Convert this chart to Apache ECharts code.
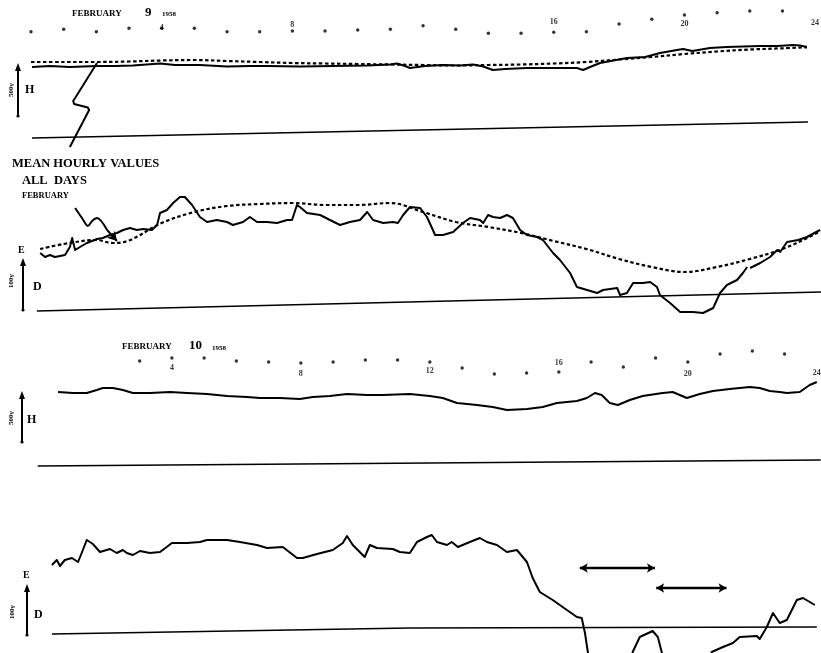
<!DOCTYPE html>
<html><head><meta charset="utf-8">
<script src="https://cdn.jsdelivr.net/npm/echarts@6.0.0/dist/echarts.min.js"></script>
<style>html,body{margin:0;padding:0;background:#fff}#c{width:821px;height:653px}</style>
</head><body><div id="c"></div>
<script>
// ---- February 9, 1958 : hour of day vs. gamma (relative) ----
const hourMarks9 = [8.3,10.7,8.3,11.7,11.7,11.7,8.3,8.3,9,9,10,10.7,14.3,10.7,6.7,6.7,7.7,8.3,16,20.7,25,27.3,29,29];
const hourLabels9 = [[4,12,'4'],[8,15,'8'],[16,18,'16'],[20,16,'20'],[24,17,'24']];
const h9 = [[0.03,830],[0.58,840],[1.19,830],[2.02,840],[2.57,840],[3.12,845],[3.95,865],[4.41,850],[5.17,850],[6.00,835],[6.70,840],[7.22,840],[8.23,835],[9.24,840],[10.29,845],[10.99,855],[11.20,865],[11.45,840],[11.60,820],[12.06,840],[12.61,850],[13.13,845],[13.53,855],[13.84,835],[14.14,800],[14.51,810],[15.18,820],[15.89,820],[16.71,820],[16.90,800],[17.11,830],[17.42,870],[18.24,920],[18.80,930],[19.25,970],[19.77,1000],[19.96,1010],[20.24,990],[20.78,1020],[21.30,1030],[21.79,1035],[22.32,1040],[22.84,1040],[23.33,1050],[23.54,1045],[23.75,1030]];
const h9Mean = [[0,880],[1,880],[2,880],[3,885],[4,895],[5,900],[6,890],[7,880],[8,870],[9,865],[10,860],[11,855],[12,850],[13,845],[14,850],[15,855],[16,865],[17,880],[18,905],[19,930],[20,960],[21,985],[22,1005],[23,1017],[23.75,1027]];
const h9Base = [[0.03,120],[23.78,280]];
const d9 = [[0.28,134],[0.43,126],[0.58,130],[0.73,126],[0.89,128],[1.04,130],[1.19,146],[1.26,164],[1.35,140],[1.50,146],[1.71,154],[2.02,162],[2.20,164],[2.42,170],[2.63,174],[2.82,180],[3.03,184],[3.24,180],[3.43,182],[3.70,180],[3.86,190],[3.95,214],[4.16,220],[4.35,234],[4.56,246],[4.71,246],[4.93,230],[5.17,206],[5.39,196],[5.69,200],[6.00,196],[6.18,190],[6.49,196],[6.70,206],[6.92,196],[7.22,196],[7.53,194],[7.84,200],[7.99,200],[8.14,230],[8.23,226],[8.45,214],[8.85,210],[9.15,200],[9.46,190],[9.76,196],[10.07,200],[10.29,216],[10.47,200],[10.78,194],[11.08,196],[11.23,194],[11.39,210],[11.60,226],[11.91,224],[12.12,206],[12.37,170],[12.61,170],[12.92,176],[13.22,194],[13.44,204],[13.74,200],[13.84,194],[13.99,210],[14.14,206],[14.36,204],[14.57,210],[14.75,204],[14.97,180],[15.18,170],[15.49,166],[15.67,160],[15.98,134],[16.19,120],[16.50,94],[16.71,66],[17.02,60],[17.33,54],[17.51,60],[17.94,64],[18.03,50],[18.24,54],[18.43,74],[18.73,74],[18.95,76],[19.16,66],[19.25,50],[19.56,34],[19.87,16],[20.26,16],[20.57,14],[20.88,24],[21.09,54],[21.30,70],[21.61,80],[21.79,94],[21.92,106],[21.96,null],[22.01,104],[22.32,114],[22.62,126],[22.84,140],[22.93,136],[23.14,156],[23.48,160],[23.75,166],[24.15,180]];
const d9Mean = [[0.28,142],[1,152],[2,160],[2.5,154],[3,159],[4,194],[5,216],[6,228],[7,232],[8,234],[9,230],[10,230],[11,234],[12,216],[13,196],[14,186],[15,174],[16,158],[17,142],[18,122],[19,106],[20,96],[21,106],[22,122],[23,142],[24,172],[24.15,180]];
const d9Base = [[0.18,18],[24.18,56]];
// annotation leaders (hour, gamma)
const leaderH9 = [[1.19,30],[1.78,400],[1.74,425],[1.50,445],[1.32,460],[1.29,490],[1.35,520],[2.02,870]];
const leaderD9 = [[1.35,224],[1.56,204],[1.74,188],[1.87,198],[2.02,204],[2.33,180]];
const leaderD9Tip = [[2.33,180],[2.63,158]];

// ---- February 10, 1958 ----
const hourMarks10 = [[3,19],[4,22],[5,22],[6,19],[7,18],[8,17],[9,18],[10,20],[11,20],[12,18],[13,12],[14,6],[15,7],[16,8],[17,18],[18,13],[19,22],[20,18],[21,26],[22,29],[23,26]];
const hourLabels10 = [[4,12,'4'],[8,6,'8'],[12,9,'12'],[16,17,'16'],[20,6,'20'],[24,7,'24']];
const h10 = [[0.47,530],[0.93,520],[1.36,520],[1.67,550],[1.86,570],[2.17,570],[2.48,550],[2.79,520],[3.32,520],[3.94,530],[4.47,520],[5.09,510],[5.71,490],[6.33,480],[6.73,470],[7.35,470],[7.97,460],[8.37,480],[8.90,490],[9.43,510],[10.05,500],[10.54,500],[11.38,510],[12.00,490],[12.40,470],[12.84,420],[13.46,400],[13.95,380],[14.39,350],[15.01,360],[15.50,380],[15.94,420],[16.56,440],[16.87,470],[17.12,520],[17.33,500],[17.58,420],[17.83,400],[18.20,450],[18.60,490],[19.22,520],[19.53,530],[19.97,470],[20.37,510],[20.78,540],[21.30,560],[21.92,580],[22.23,570],[22.54,540],[22.85,530],[23.07,520],[23.47,530],[23.78,600],[24.00,630]];
const h10Base = [[-0.16,-210],[24.12,-150]];
const d10 = [[0.28,176],[0.43,186],[0.53,174],[0.68,186],[0.90,190],[1.09,182],[1.24,206],[1.36,226],[1.55,218],[1.77,202],[2.08,208],[2.29,200],[2.48,206],[2.60,200],[2.79,196],[3.01,204],[3.32,200],[3.63,202],[3.84,212],[4.00,220],[4.47,220],[4.87,222],[5.09,226],[5.71,226],[6.11,222],[6.64,216],[6.95,210],[7.44,212],[7.88,190],[8.06,190],[8.50,198],[8.99,206],[9.30,220],[9.43,234],[9.61,216],[9.98,192],[10.14,216],[10.36,210],[10.85,208],[11.07,202],[11.38,200],[11.60,222],[11.91,232],[12.06,236],[12.22,222],[12.53,216],[12.68,222],[12.87,212],[13.24,222],[13.55,230],[13.77,222],[14.08,216],[14.39,202],[14.70,206],[15.01,182],[15.19,150],[15.41,122],[15.81,106],[16.25,86],[16.56,72],[16.71,70],[16.81,40],[16.90,2],[16.96,-24],[17.5,null],[18.23,-24],[18.29,2],[18.51,32],[18.91,44],[19.07,32],[19.19,2],[19.26,-24],[20.0,null],[20.68,-24],[20.74,2],[21.09,12],[21.40,20],[21.61,32],[22.14,34],[22.23,28],[22.45,52],[22.64,80],[22.85,60],[23.07,66],[23.38,106],[23.57,110],[23.94,96]];
const d10Base = [[0.28,38],[11.38,50],[24.0,52]];
const arrows10 = [[16.65,18.98,170],[19.02,21.2,130]];

const FONT = 'Liberation Serif, DejaVu Serif, serif';
const grids = [
  {left:31,right:0,top:0,height:40},
  {left:31,right:0,top:40,height:110},
  {left:31,right:0,top:180,height:140},
  {left:30,right:0,top:338,height:42},
  {left:30,right:0,top:375,height:95},
  {left:30,right:0,top:500,height:153}
];
const xr = [[0,24.18],[0,24.18],[0,24.18],[-0.4,24.13],[-0.4,24.13],[-0.4,24.13]];
const yr = [[0,40],[0,1100],[0,280],[0,42],[-250,700],[0,306]];
const xAxis = xr.map((r,i)=>({type:'value',gridIndex:i,min:r[0],max:r[1],show:false}));
const yAxis = yr.map((r,i)=>({type:'value',gridIndex:i,min:r[0],max:r[1],show:false}));

function trace(data, gi, opt={}) {
  return Object.assign({type:'line',xAxisIndex:gi,yAxisIndex:gi,data:data,symbol:'none',showSymbol:false,
    connectNulls:false,clip:true,silent:true,
    lineStyle:{color:'#000',width:2,join:'round'}}, opt);
}
function dashed(data, gi) {
  return trace(data, gi, {smooth:0.35, lineStyle:{color:'#000',width:2.2,type:[3.5,2.5]}});
}
function base(data, gi) {
  return trace(data, gi, {lineStyle:{color:'#000',width:1.6}});
}
function marks(data, gi) {
  return {type:'scatter',xAxisIndex:gi,yAxisIndex:gi,data:data,symbol:'circle',symbolSize:3.4,
    itemStyle:{color:'#000'},silent:true,clip:false};
}
function labels(data, gi) {
  return {type:'scatter',xAxisIndex:gi,yAxisIndex:gi,data:data,symbolSize:1,clip:false,silent:true,
    itemStyle:{color:'rgba(0,0,0,0)'},
    label:{show:true,position:'inside',formatter:p=>p.data[2],color:'#000',fontSize:8,fontWeight:'bold',fontFamily:FONT}};
}

const series = [
  marks(hourMarks9.map((v,i)=>[i,v]),0),
  labels(hourLabels9,0),
  dashed(h9Mean,1),
  trace(h9,1),
  base(h9Base,1),
  trace(leaderH9,1,{clip:false,lineStyle:{color:'#000',width:2,join:'round'}}),
  dashed(d9Mean,2),
  trace(d9,2),
  base(d9Base,2),
  trace(leaderD9,2,{clip:false,smooth:0.3,lineStyle:{color:'#000',width:2}}),
  trace(leaderD9Tip,2,{clip:false,lineStyle:{width:0},
    markLine:{silent:true,symbol:['none','arrow'],symbolSize:[8,9],animation:false,label:{show:false},
      lineStyle:{color:'#000',width:2,type:'solid'},
      data:[[{coord:leaderD9Tip[0]},{coord:leaderD9Tip[1]}]]}}),
  marks(hourMarks10,3),
  labels(hourLabels10,3),
  trace(h10,4),
  base(h10Base,4),
  trace(d10,5),
  base(d10Base,5),
  trace([],5,{markLine:{silent:true,symbol:['arrow','arrow'],symbolSize:[7,8],animation:false,label:{show:false},
      lineStyle:{color:'#000',width:2.4,type:'solid'},
      data:arrows10.map(a=>[{coord:[a[0],a[2]]},{coord:[a[1],a[2]]}])}})
];

function txt(x,y,s,size,opt={}) {
  return Object.assign({type:'text',x:x,y:y,silent:true,
    style:{text:s,fill:'#000',font:'bold '+size+'px '+FONT,textVerticalAlign:'middle',verticalAlign:'middle'}},opt);
}
function rtxt(x,y,s,size) {
  return {type:'text',x:x,y:y,rotation:Math.PI/2,silent:true,
    style:{text:s,fill:'#000',font:'bold '+size+'px '+FONT,align:'center',verticalAlign:'middle',textAlign:'center',textVerticalAlign:'middle'}};
}
function scaleBar(x,y1,y2) {
  return [
    {type:'line',silent:true,shape:{x1:x,y1:y1+5,x2:x,y2:y2},style:{stroke:'#000',lineWidth:2}},
    {type:'polygon',silent:true,shape:{points:[[x,y1-1],[x-3,y1+7],[x+3,y1+7]]},style:{fill:'#000'}},
    {type:'circle',silent:true,shape:{cx:x,cy:y2,r:1.6},style:{fill:'#000'}}
  ];
}
const graphic = [
  txt(72,14,'FEBRUARY',9), txt(145,13,'9',13), txt(162,14,'1958',7),
  txt(122,347,'FEBRUARY',9), txt(189,346,'10',13), txt(212,348,'1958',7),
  txt(12,164,'MEAN HOURLY VALUES',12.5), txt(22,181,'ALL  DAYS',12.5), txt(22,196,'FEBRUARY',8.5),
  rtxt(11,90,'500γ',7), txt(25,90,'H',12),
  txt(18,250,'E',10), rtxt(11,281,'100γ',7), txt(33,287,'D',12),
  rtxt(11,418,'500γ',7), txt(27,420,'H',12),
  txt(23,575,'E',10), rtxt(12,612,'100γ',7), txt(34,615,'D',12),
  ...scaleBar(18,64,116), ...scaleBar(23,259,310), ...scaleBar(22,392,442), ...scaleBar(27,585,635)
];

const chart = echarts.init(document.getElementById('c'), null, {renderer:'canvas'});
chart.setOption({animation:false,backgroundColor:'#fff',grid:grids,xAxis:xAxis,yAxis:yAxis,series:series,graphic:graphic});
</script></body></html>
